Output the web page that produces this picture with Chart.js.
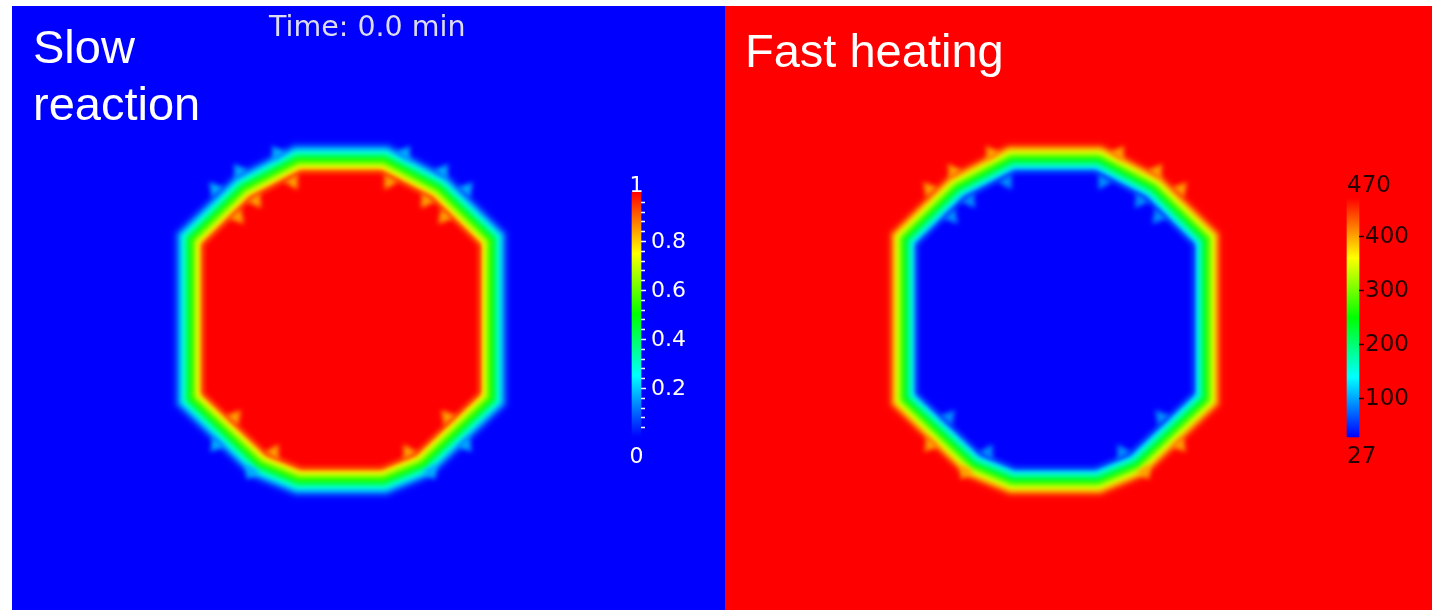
<!DOCTYPE html>
<html>
<head>
<meta charset="utf-8">
<script src="https://cdn.jsdelivr.net/npm/chart.js@4.4.1/dist/chart.umd.min.js"></script>
<style>
  html, body { margin: 0; padding: 0; background: #fff; }
  body { width: 1432px; height: 610px; position: relative; overflow: hidden; }
  .panel { position: absolute; top: 6px; height: 604px; overflow: hidden; }
  #left { left: 12px; width: 713px; background: #0000ff; }
  #right { left: 725px; width: 707px; background: #ff0000; }
  .panel canvas { position: absolute; left: 0; top: 0; }
  .label { position: absolute; font-family: 'Liberation Sans', Arial, sans-serif; font-size: 47px; line-height: 57px; color: #fff; white-space: nowrap; }
  .time { position: absolute; font-family: 'DejaVu Sans', sans-serif; font-size: 28.5px; line-height: 32px; color: #dcdcee; white-space: nowrap; }
</style>
</head>
<body>
<div class="panel" id="left">
  <canvas id="chartLeft" width="713" height="604"></canvas>
  <div class="label" style="left:21px; top:12px;">Slow<br>reaction</div>
  <div class="time" style="left:257px; top:5px;">Time: 0.0 min</div>
</div>
<div class="panel" id="right">
  <canvas id="chartRight" width="707" height="604"></canvas>
  <div class="label" style="left:20px; top:16px;">Fast heating</div>
</div>
<script>
// edge of the inner region of the sample (px, centre of the sample at 0,0, y up)
const contourX = [0, 40, 90, 137, 137, 74, 40, -40, -74, -137, -137, -90, -40, 0];
const contourY = [148, 148, 122, 76, -72, -132, -146, -146, -132, -72, 76, 122, 148, 148];

// distance out from that edge (px) and the value read there
const ringOffsets = [31, 27, 23, 19, 15, 11, 7, 3, 0];
const conversionLevels = [0.03, 0.14, 0.27, 0.4, 0.52, 0.64, 0.76, 0.9, 1];
const temperatureLevels = [462, 410, 350, 295, 240, 185, 130, 70, 27];

// mesh artefacts on the diagonals: spikes out of the ring and teeth into the core
const outerSpikeX = [-64, -102, -126, 64, 102, 126, 125, 90, -125, -90];
const outerSpikeY = [168, 150, 132, 168, 150, 132, -124, -151, -124, -151];
const outerSpikeAngle = [-35, -35, -40, 35, 35, 40, 140, 150, -140, -150];
const innerToothX = [-48, -85, -103, 48, 85, 103, 106, 67, -106, -67];
const innerToothY = [139, 120, 104, 139, 120, 104, -96, -131, -96, -131];
const innerToothAngle = [150, 145, 140, -150, -145, -140, -40, -30, 40, 30];
const spikeConversion = [0.17, 0.84];
const spikeTemperature = [400, 90];

// colour bars
const conversionRange = [0, 1];
const conversionTicks = [0.2, 0.4, 0.6, 0.8];
const conversionTickLabels = ['0.2', '0.4', '0.6', '0.8'];
const conversionMinorTicks = [0.04, 0.08, 0.12, 0.16, 0.24, 0.28, 0.32, 0.36, 0.44, 0.48, 0.52, 0.56,
  0.64, 0.68, 0.72, 0.76, 0.84, 0.88, 0.92, 0.96];
const temperatureRange = [27, 470];
const temperatureTicks = [100, 200, 300, 400];
const temperatureTickLabels = ['100', '200', '300', '400'];

const contour = contourX.map((x, i) => ({ x: x, y: contourY[i] }));
const outerSpikes = outerSpikeX.map((x, i) => ({ x: x, y: outerSpikeY[i] }));
const innerTeeth = innerToothX.map((x, i) => ({ x: x, y: innerToothY[i] }));

// paraview style blue -> red rainbow
function rainbow(value, range) {
  let t = (value - range[0]) / (range[1] - range[0]);
  t = Math.max(0, Math.min(1, t));
  return 'hsl(' + (240 * (1 - t)).toFixed(1) + ',100%,50%)';
}

function ringDatasets(levels, range) {
  return ringOffsets.map((d, i) => {
    const col = rainbow(levels[i], range);
    return {
      type: 'line',
      data: contour,
      borderColor: col,
      backgroundColor: col,
      borderWidth: Math.max(1, 2 * d),
      borderJoinStyle: 'miter',
      fill: 'shape',
      pointRadius: 0,
      tension: 0,
      order: 100 - i,
    };
  });
}

function spikeDataset(points, angles, value, range) {
  return {
    type: 'line',
    data: points,
    showLine: false,
    pointStyle: 'triangle',
    pointRadius: 9,
    pointRotation: angles,
    pointBackgroundColor: rainbow(value, range),
    pointBorderWidth: 0,
    order: 0,
  };
}

// soft field edges
const blurPlugin = {
  id: 'blur',
  beforeDatasetsDraw(chart) {
    chart.ctx.save();
    chart.ctx.filter = 'blur(2.5px)';
  },
  afterDatasetsDraw(chart) {
    chart.ctx.restore();
  },
  beforeDatasetDraw(chart, args) {
    if (args.meta.type === 'bar') {
      chart.ctx.save();
      chart.ctx.filter = 'none';
    }
  },
  afterDatasetDraw(chart, args) {
    if (args.meta.type === 'bar') chart.ctx.restore();
  },
};

// tick marks and labels of the colour bar
const barAxisPlugin = {
  id: 'barAxis',
  afterDraw(chart, args, opts) {
    const ctx = chart.ctx;
    const cb = chart.scales.cb;
    const meta = chart.getDatasetMeta(chart.data.datasets.length - 1);
    const bar = meta.data[0];
    if (!bar) return;
    const left = bar.x - bar.width / 2;
    const right = bar.x + bar.width / 2;
    ctx.save();
    ctx.strokeStyle = opts.color;
    ctx.fillStyle = opts.color;
    ctx.lineWidth = 1.5;
    (opts.minor || []).forEach(v => {
      const y = Math.round(cb.getPixelForValue(v)) + 0.5;
      ctx.beginPath();
      ctx.moveTo(right, y);
      ctx.lineTo(right + 4, y);
      ctx.stroke();
    });
    ctx.font = opts.font;
    ctx.textAlign = 'left';
    ctx.textBaseline = 'middle';
    opts.ticks.forEach((v, i) => {
      const y = Math.round(cb.getPixelForValue(v)) + 0.5;
      ctx.beginPath();
      ctx.moveTo(right, y);
      ctx.lineTo(right + 5, y);
      ctx.stroke();
      ctx.fillText(opts.labels[i], right + opts.gap, y + 1);
    });
    ctx.textBaseline = 'alphabetic';
    ctx.textAlign = opts.endAlign;
    const ex = opts.endAlign === 'center' ? bar.x : left;
    ctx.fillText(opts.endLabels[1], ex, cb.getPixelForValue(opts.range[1]) + opts.endTop);
    ctx.fillText(opts.endLabels[0], ex, cb.getPixelForValue(opts.range[0]) + opts.endBottom);
    ctx.restore();
  },
};

function makeChart(id, cfg) {
  const H = 604;
  const span = cfg.range[1] - cfg.range[0];
  const px = (cfg.barBottom - cfg.barTop) / span;
  const cbMin = cfg.range[0] - (H - cfg.barBottom) / px;
  const cbMax = cfg.range[1] + cfg.barTop / px;

  const datasets = ringDatasets(cfg.levels, cfg.range);
  datasets.push(spikeDataset(outerSpikes, outerSpikeAngle, cfg.spikes[0], cfg.range));
  datasets.push(spikeDataset(innerTeeth, innerToothAngle, cfg.spikes[1], cfg.range));
  datasets.push({
    type: 'bar',
    yAxisID: 'cb',
    data: [{ x: cfg.barX, y: cfg.range }],
    barThickness: cfg.barWidth,
    borderWidth: 0,
    order: -1,
    backgroundColor(c) {
      const s = c.chart.scales.cb;
      if (!s) return '#00ff00';
      const y0 = s.getPixelForValue(cfg.range[0]);
      const y1 = s.getPixelForValue(cfg.range[1]);
      if (!isFinite(y0) || !isFinite(y1)) return '#00ff00';
      const g = c.chart.ctx.createLinearGradient(0, y0, 0, y1);
      for (let k = 0; k <= 8; k++) {
        g.addColorStop(k / 8, rainbow(cfg.range[0] + span * k / 8, cfg.range));
      }
      return g;
    },
  });

  return new Chart(document.getElementById(id), {
    type: 'line',
    data: { datasets: datasets },
    options: {
      responsive: false,
      animation: false,
      devicePixelRatio: 1,
      layout: { padding: 0, autoPadding: false },
      events: [],
      scales: {
        // the bar dataset would switch on offset for x, keep it linear 1:1
        x: { type: 'linear', offset: false, min: cfg.xRange[0], max: cfg.xRange[1], display: false },
        y: { type: 'linear', min: -289, max: 315, display: false },
        cb: { type: 'linear', min: cbMin, max: cbMax, display: false },
      },
      plugins: {
        legend: { display: false },
        tooltip: { enabled: false },
        barAxis: cfg.axis,
      },
    },
    plugins: [blurPlugin, barAxisPlugin],
  });
}

makeChart('chartLeft', {
  xRange: [-329, 384],
  levels: conversionLevels,
  spikes: spikeConversion,
  range: conversionRange,
  barX: 295.5, barWidth: 9, barTop: 186, barBottom: 431,
  axis: {
    color: '#ffffff', font: '22px "DejaVu Sans"', gap: 10,
    ticks: conversionTicks, labels: conversionTickLabels, minor: conversionMinorTicks,
    range: conversionRange, endLabels: ['0', '1'], endAlign: 'center', endTop: 0, endBottom: 26,
  },
});

makeChart('chartRight', {
  xRange: [-330, 377],
  levels: temperatureLevels,
  spikes: spikeTemperature,
  range: temperatureRange,
  barX: 298, barWidth: 12, barTop: 192, barBottom: 431,
  axis: {
    color: '#260000', font: '23px "DejaVu Sans"', gap: 6,
    ticks: temperatureTicks, labels: temperatureTickLabels,
    range: temperatureRange, endLabels: ['27', '470'], endAlign: 'left', endTop: -6, endBottom: 26,
  },
});
</script>
</body>
</html>
